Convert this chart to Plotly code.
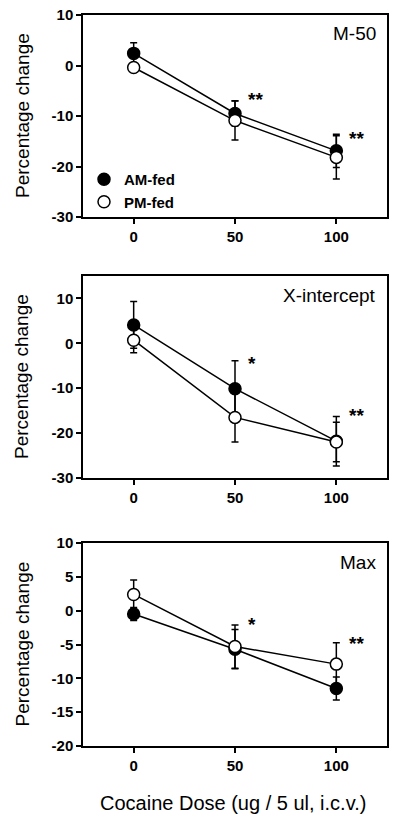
import plotly.graph_objects as go

# ---------------- data ----------------
doses = [0, 50, 100]
dose_ticks = ["0", "50", "100"]

m50_am = [2.4, -9.5, -16.9]
m50_am_err = [2.1, 2.5, 3.3]
m50_pm = [-0.4, -10.9, -18.2]
m50_pm_err = [0.9, 3.85, 4.3]

xint_am = [4.1, -10.1, -21.8]
xint_am_err = [5.2, 6.2, 5.5]
xint_pm = [0.7, -16.5, -22.0]
xint_pm_err = [2.8, 5.5, 4.4]

max_am = [-0.5, -5.7, -11.5]
max_am_err = [0.95, 2.9, 1.7]
max_pm = [2.4, -5.3, -7.9]
max_pm_err = [2.15, 3.2, 3.15]

panel_names = ["M-50", "X-intercept", "Max"]
y_ranges = [[-30, 10], [-30, 15], [-20, 10]]
y_ticks = [[10, 0, -10, -20, -30], [10, 0, -10, -20, -30], [10, 5, 0, -5, -10, -15, -20]]
stars = [[(55.5, "**"), (105.5, "**")], [(55.5, "*"), (105.5, "**")], [(55.5, "*"), (105.5, "**")]]
star_y = [[-6.8, -14.4], [-4.5, -16.1], [-2.1, -4.8]]

series_am = [m50_am, xint_am, max_am]
series_am_err = [m50_am_err, xint_am_err, max_am_err]
series_pm = [m50_pm, xint_pm, max_pm]
series_pm_err = [m50_pm_err, xint_pm_err, max_pm_err]

# ---------------- layout geometry ----------------
W, H = 400, 831
FONT = "Arial, Liberation Sans, sans-serif"
x_dom = [83 / W, 387 / W]
panel_px = [(15, 217), (276, 478), (543, 746)]  # top, bottom in pixels
y_doms = [[1 - b / H, 1 - t / H] for t, b in panel_px]

fig = go.Figure()

for i in range(3):
    xa = "x" if i == 0 else f"x{i+1}"
    ya = "y" if i == 0 else f"y{i+1}"
    # AM-fed (filled)
    fig.add_trace(go.Scatter(
        x=doses, y=series_am[i], xaxis=xa, yaxis=ya, mode="lines+markers",
        line=dict(color="black", width=1.5),
        marker=dict(size=12, color="black", line=dict(color="black", width=1.5)),
        error_y=dict(type="data", array=series_am_err[i], color="black", thickness=1.5, width=3.5),
        showlegend=False, name="AM-fed"))
    # PM-fed (open)
    fig.add_trace(go.Scatter(
        x=doses, y=series_pm[i], xaxis=xa, yaxis=ya, mode="lines+markers",
        line=dict(color="black", width=1.5),
        marker=dict(size=12, color="white", line=dict(color="black", width=1.5)),
        error_y=dict(type="data", array=series_pm_err[i], color="black", thickness=1.5, width=3.5),
        showlegend=False, name="PM-fed"))

# legend entries (markers only)
fig.add_trace(go.Scatter(x=[None], y=[None], mode="markers", name="AM-fed",
                         marker=dict(size=12, color="black", line=dict(color="black", width=1.5))))
fig.add_trace(go.Scatter(x=[None], y=[None], mode="markers", name="PM-fed",
                         marker=dict(size=12, color="white", line=dict(color="black", width=1.5))))

axis_common = dict(showline=True, mirror=True, linecolor="black", linewidth=1.5,
                   ticks="outside", ticklen=5, tickwidth=1.5, tickcolor="black",
                   showgrid=False, zeroline=False, automargin=False,
                   tickfont=dict(family=FONT, size=15, color="black", weight="bold"))

layout = dict(width=W, height=H, margin=dict(l=0, r=0, t=0, b=0),
              paper_bgcolor="white", plot_bgcolor="white",
              showlegend=True,
              legend=dict(x=84 / W, y=1 - 163 / H, xanchor="left", yanchor="top",
                          bgcolor="rgba(0,0,0,0)", tracegroupgap=0,
                          font=dict(family=FONT, size=15, color="black", weight="bold")))

for i in range(3):
    xk = "xaxis" if i == 0 else f"xaxis{i+1}"
    yk = "yaxis" if i == 0 else f"yaxis{i+1}"
    ya = "y" if i == 0 else f"y{i+1}"
    xa = "x" if i == 0 else f"x{i+1}"
    layout[xk] = dict(axis_common, domain=x_dom, range=[-25, 125], anchor=ya,
                      tickvals=doses, ticktext=dose_ticks)
    layout[yk] = dict(axis_common, domain=y_doms[i], range=y_ranges[i], anchor=xa,
                      tickvals=y_ticks[i], ticktext=[str(v) for v in y_ticks[i]])

fig.update_layout(**layout)

annotations = []
for i in range(3):
    xa = "x" if i == 0 else f"x{i+1}"
    ya = "y" if i == 0 else f"y{i+1}"
    top, bot = panel_px[i]
    # panel label
    annotations.append(dict(x=378 / W, y=1 - (top + 19) / H, xref="paper", yref="paper",
                            text=panel_names[i], showarrow=False, xanchor="right", yanchor="middle",
                            font=dict(family=FONT, size=19, color="black")))
    # y axis title
    annotations.append(dict(x=22 / W, y=1 - ((top + bot) / 2) / H, xref="paper", yref="paper",
                            text="Percentage change", showarrow=False, textangle=-90,
                            xanchor="center", yanchor="middle",
                            font=dict(family=FONT, size=19, color="black")))
    # significance stars
    for (sx, txt), sy in zip(stars[i], star_y[i]):
        annotations.append(dict(x=sx, y=sy, xref=xa, yref=ya, text=txt, showarrow=False,
                                xanchor="left", yanchor="middle",
                                font=dict(family=FONT, size=19, color="black", weight="bold")))

annotations.append(dict(x=233 / W, y=1 - 803 / H, xref="paper", yref="paper",
                        text="Cocaine Dose (ug / 5 ul, i.c.v.)", showarrow=False,
                        xanchor="center", yanchor="middle",
                        font=dict(family=FONT, size=20, color="black")))
fig.update_layout(annotations=annotations)

fig.write_html("out.html", config={"displayModeBar": False},
               post_script="document.body.style.margin='0px';")
